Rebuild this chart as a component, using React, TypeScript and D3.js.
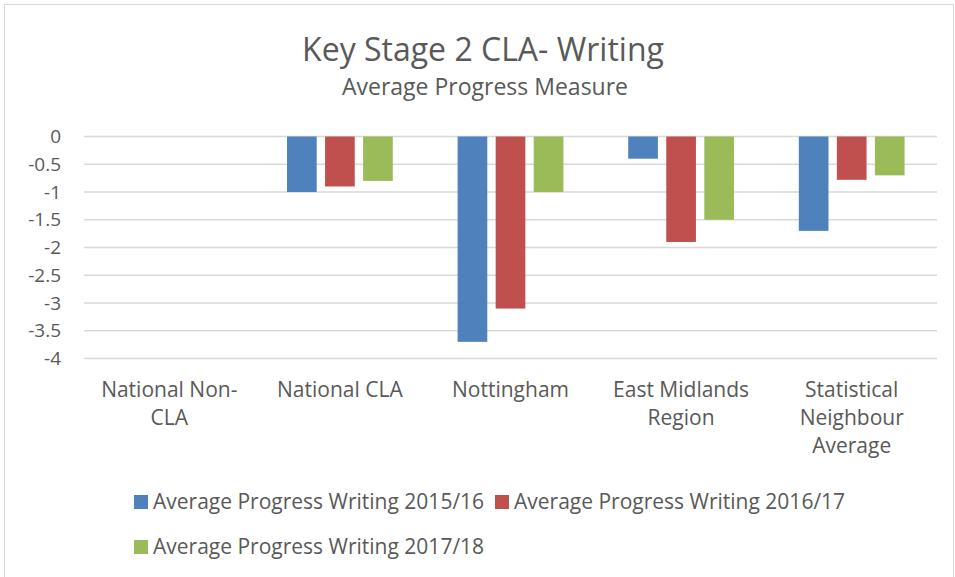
import React from 'react';
import * as d3 from 'd3';

const categories = ['National Non-CLA', 'National CLA', 'Nottingham', 'East Midlands Region', 'Statistical Neighbour Average'];
const categoryLines = [['National Non-', 'CLA'], ['National CLA'], ['Nottingham'], ['East Midlands', 'Region'], ['Statistical', 'Neighbour', 'Average']];
const seriesNames = ['Average Progress Writing 2015/16', 'Average Progress Writing 2016/17', 'Average Progress Writing 2017/18'];
const values2015 = [0, -1, -3.7, -0.4, -1.7];
const values2016 = [0, -0.9, -3.1, -1.9, -0.78];
const values2017 = [0, -0.8, -1, -1.5, -0.7];
const yTicks = [0, -0.5, -1, -1.5, -2, -2.5, -3, -3.5, -4];
const colors = ['#4f81bd', '#c0504d', '#9bbb59'];

const W = 955;
const H = 577;
const font = "'Open Sans', sans-serif";
const textColor = '#595959';

export default function App() {
  const series = [values2015, values2016, values2017];
  const x0 = d3.scaleBand().domain(categories).range([84, 937]).paddingInner(0.38).paddingOuter(0.19);
  const x1 = d3.scaleBand().domain(seriesNames).range([0, x0.bandwidth()]).paddingInner(0.22);
  const y = d3.scaleLinear().domain([-4, 0]).range([358.5, 136.5]);

  // legend positions: two on the first row, one on the second
  const legendPos = [[134, 502], [495, 502], [134, 547]];

  return (
    <svg width={W} height={H} style={{ position: 'absolute', left: 0, top: 0 }}>
      <rect x={4.5} y={4.5} width={W - 6} height={H} fill="#fff" stroke="#d9d9d9" />
      <text x={483} y={61} textAnchor="middle" fontFamily={font} fontSize={32} fill={textColor}>Key Stage 2 CLA- Writing</text>
      <text x={485} y={95} textAnchor="middle" fontFamily={font} fontSize={23} fill={textColor}>Average Progress Measure</text>

      {yTicks.map(t => (
        <g key={t}>
          <line x1={84} x2={937} y1={y(t)} y2={y(t)} stroke="#d9d9d9" strokeWidth={1.3} />
          <text x={61} y={y(t)} dy="0.35em" textAnchor="end" fontFamily={font} fontSize={19} fill={textColor}>{t}</text>
        </g>
      ))}

      {categories.map((c, i) => (
        <g key={c}>
          {series.map((s, j) => s[i] !== 0 && (
            <rect key={j} x={(x0(c) as number) + (x1(seriesNames[j]) as number)} y={y(0)}
              width={x1.bandwidth()} height={y(s[i]) - y(0)} fill={colors[j]} />
          ))}
          {categoryLines[i].map((line, k) => (
            <text key={k} x={(x0(c) as number) + x0.bandwidth() / 2} y={397 + k * 28}
              textAnchor="middle" fontFamily={font} fontSize={21} fill={textColor}>{line}</text>
          ))}
        </g>
      ))}

      {seriesNames.map((n, j) => {
        const [lx, ly] = legendPos[j];
        return (
          <g key={n}>
            <rect x={lx} y={ly - 7} width={14} height={14} fill={colors[j]} />
            <text x={lx + 19} y={ly} dy="0.35em" fontFamily={font} fontSize={21} fill={textColor}>{n}</text>
          </g>
        );
      })}
    </svg>
  );
}
